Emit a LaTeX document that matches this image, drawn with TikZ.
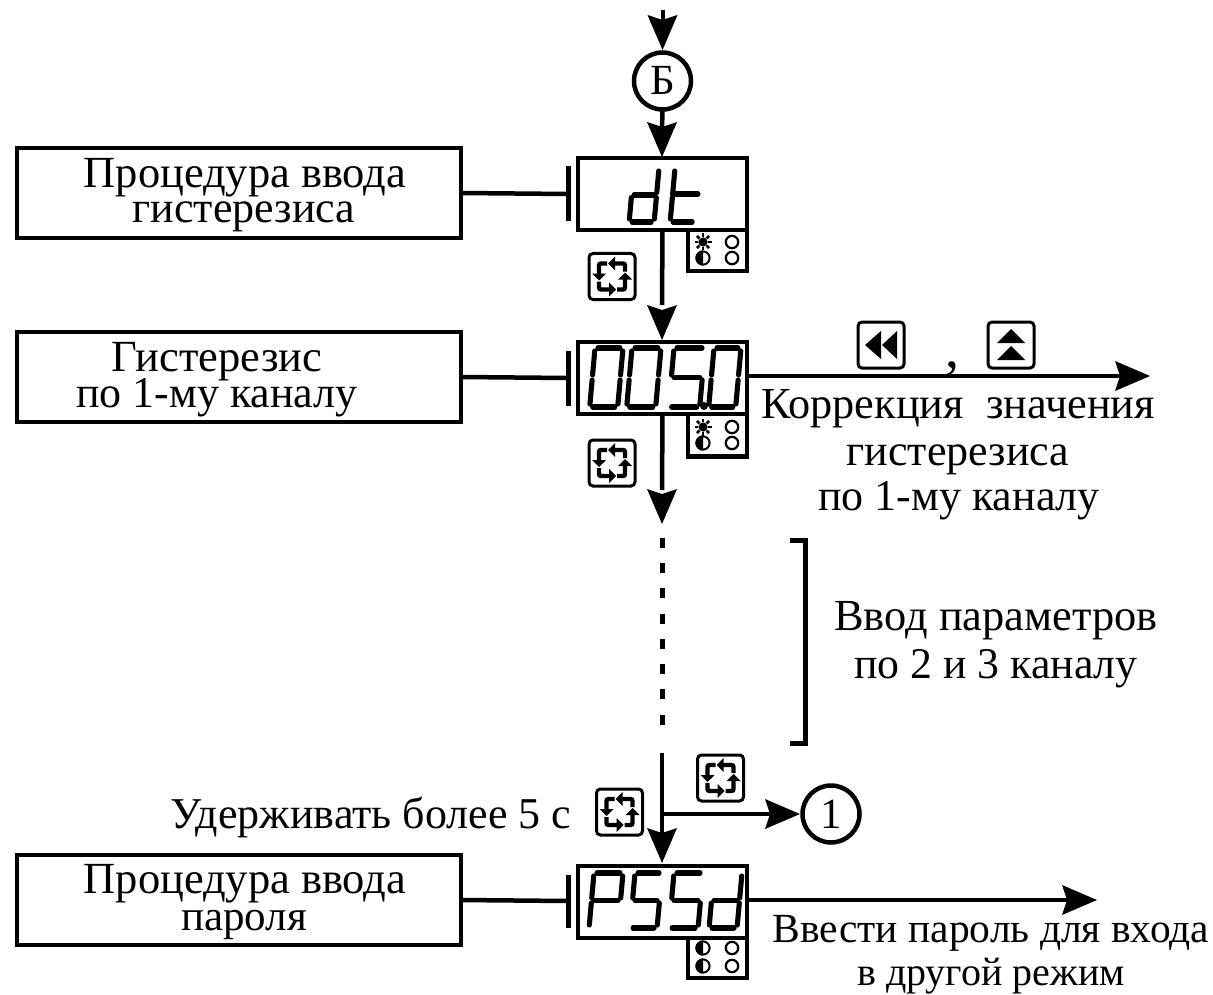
\documentclass[tikz,border=0pt]{standalone}
\usepackage{fontspec}
\setmainfont{Liberation Serif}
\newcommand{\segw}{30}
\newcommand{\segh}{56}
\newcommand{\segA}{\draw[segline] (3,0)--(\segw-3,0);}
\newcommand{\segB}{\draw[segline] (\segw,3)--(\segw,\segh/2-2.5);}
\newcommand{\segC}{\draw[segline] (\segw,\segh/2+2.5)--(\segw,\segh-3);}
\newcommand{\segD}{\draw[segline] (3,\segh)--(\segw-3,\segh);}
\newcommand{\segE}{\draw[segline] (0,\segh/2+2.5)--(0,\segh-3);}
\newcommand{\segF}{\draw[segline] (0,3)--(0,\segh/2-2.5);}
\newcommand{\segG}{\draw[segline] (2.5,\segh/2)--(\segw-2.5,\segh/2);}
\newcommand{\ssd}[4]{\renewcommand{\segw}{#3}\begin{scope}[shift={(#1,#2)},xslant=0.09]\foreach \s in {#4}{\csname seg\s\endcsname}\end{scope}}
\newcommand{\ahead}[3]{\fill[black,shift={(#1,#2)},rotate=#3] (0,0)--(-15,-35)--(0,-30)--(15,-35)--cycle;}
\tikzset{
 every node/.style={inner sep=0pt,outer sep=0pt},
 segline/.style={line width=5.1pt,line cap=round,black},
 lab/.style={font=\fontsize{#1}{#1}\selectfont,anchor=base,text=black},
 lab/.default=43,
 procbox/.style={draw=black,line width=4.5pt,minimum width=444pt,minimum height=90pt,fill=white},
 disp/.style={draw=black,line width=4.5pt,minimum width=169pt,minimum height=72pt,fill=white},
 ledbox/.style={draw=black,line width=4.5pt,minimum width=59pt,fill=white},
 btn/.style={draw=black,line width=3pt,rounded corners=4pt,minimum size=46pt,fill=white},
 cnode/.style={draw=black,line width=4.5pt,circle,minimum size=57pt,fill=white},
 wire/.style={line width=4.5pt,black},
 bar/.style={line width=5pt,black},
 recycle/.pic={\foreach \r in {0,90,180,270}{\begin{scope}[rotate=\r]
   \draw[line width=4.4pt,rounded corners=2pt] (2,-13)--(13,-13)--(13,-5);
   \fill (-4,-13)--(3,-20)--(3,-6)--cycle;\end{scope}}},
 sun/.pic={\fill circle (4.6pt);\foreach \r in {0,45,...,315}{\draw[line width=2.6pt,rotate=\r] (5,0)--(8.5,0);}},
 halfled/.pic={\draw[line width=2pt,fill=white] circle (6.6pt);\fill (0,-7.6) arc[start angle=90,end angle=270,radius=7.6pt]--cycle;},
 offled/.pic={\draw[line width=2.2pt] circle (6.2pt);},
}
\begin{document}
\begin{tikzpicture}[x=1pt,y=-1pt]
\useasboundingbox (0,0) rectangle (1213,995);
% process boxes
\node[procbox] (p1) at (239,193) {};
\node[procbox] (p2) at (239,377) {};
\node[procbox] (p3) at (239,900) {};
\node[lab=44.5] (t1) at (245,188) {Процедура ввода};
\node[lab=44] (t2) at (244,223) {гистерезиса};
\node[lab=44.5] (t3) at (217,371) {Гистерезис};
\node[lab=44] (t4) at (217,407) {по 1-му каналу};
\node[lab=44.5] (t5) at (245,893) {Процедура ввода};
\node[lab] (t6) at (244,930) {пароля};
% bars
\coordinate (b1) at (568,194);
\coordinate (b2) at (568,378);
\coordinate (b3) at (568,901);
\draw[bar] ([yshift=-27.5pt]b1)--([yshift=27.5pt]b1);
\draw[bar] ([yshift=-27.5pt]b2)--([yshift=27.5pt]b2);
\draw[bar] ([yshift=-26.5pt]b3)--([yshift=26.5pt]b3);
\draw[wire] (p1.east)--(b1);
\draw[wire] (p2.east)--(b2);
\draw[wire] (p3.east)--(b3);
% displays
\node[ledbox,minimum height=42pt] (l1) at (717.5,250) {};
\node[ledbox,minimum height=43pt] (l2) at (717.5,435) {};
\node[ledbox,minimum height=41pt] (l3) at (717.5,957.5) {};
\node[disp] (d1) at (662.5,194) {};
\node[disp] (d2) at (662.5,378) {};
\node[disp] (d3) at (662.5,902) {};
% LEDs
\pic at (703,242) {sun}; \pic at (703,258) {halfled}; \pic at (732,242) {offled}; \pic at (732,258) {offled};
\pic at (703,427) {sun}; \pic at (703,443) {halfled}; \pic at (732,427) {offled}; \pic at (732,443) {offled};
\pic at (703,948) {halfled}; \pic at (703,966) {halfled}; \pic at (732,948) {offled}; \pic at (732,966) {offled};
% digits
\renewcommand{\segh}{54}
\ssd{634}{168}{25}{B,C,D,E,G}
\ssd{675}{168}{25}{F,E,D}
\draw[segline] (672.5,194)--(698,194);
\renewcommand{\segh}{59}
\ssd{595}{348}{28}{A,B,C,D,E,F}
\ssd{632}{348}{29}{A,B,C,D,E,F}
\ssd{674}{348}{31}{A,F,G,C,D}
\ssd{714}{348}{27}{A,B,C,D,E,F}
\fill (704,406) circle (4pt);
\renewcommand{\segh}{55}
\ssd{594}{873}{29}{A,B,F,E,G}
\ssd{635}{873}{27}{A,F,G,C,D}
\ssd{674}{873}{29}{A,F,G,C,D}
\ssd{714}{873}{28}{B,C,D,E,G}
% main flow
\coordinate (top) at (663,10);
\node[cnode] (cb) at (662.5,81) {};
\node[lab] (cbt) at (662.5,95) {Б};
\draw[wire] (top)--(663,25);
\ahead{662.5}{50}{0}
\draw[wire] (cb.south)--(662,130);
\ahead{662}{157}{0}
\draw[wire] (d1.south)--(662,305);
\ahead{662}{340}{0}
\draw[wire] (d2.south)--(662,490);
\ahead{662}{524}{0}
\foreach \y in {538,563,588,614,639,664,689,715}{\draw[line width=5pt,black] (662,\y)--(662,\y+10);}
\coordinate (split) at (662,814);
\draw[wire] (662,753)--(662,835);
\ahead{662}{863}{0}
\node[cnode] (c1) at (831,814) {};
\node[lab] (c1t) at (831,828.5) {1};
\draw[wire] (split)--(775,814);
\ahead{800}{814}{90}
% output arrows
\coordinate (e2) at (1150,376);
\coordinate (e3) at (1097,900);
\draw[wire] (d2.east|-e2)--(1120,376);
\ahead{1150}{376}{90}
\draw[wire] (d3.east|-e3)--(1067,900);
\ahead{1097}{900}{90}
% buttons
\node[btn] (i1) at (612,276.5) {}; \pic at (i1) {recycle};
\node[btn] (i2) at (612,463) {}; \pic at (i2) {recycle};
\node[btn] (i3) at (720.5,778) {}; \pic at (i3) {recycle};
\node[btn] (i4) at (619.5,812) {}; \pic at (i4) {recycle};
\node[btn] (i5) at (881,345) {};
\fill ([shift={(-16,0)}]i5.center)--++(16,-14)--++(0,28)--cycle;
\fill ([shift={(1,0)}]i5.center)--++(15,-14)--++(0,28)--cycle;
\node[btn] (i6) at (1011,345) {};
\fill ([shift={(0,-16)}]i6.center)--++(14,14)--++(-28,0)--cycle;
\fill ([shift={(0,1)}]i6.center)--++(14,14)--++(-28,0)--cycle;
\node[lab=56] (comma) at (952,367) {,};
% bracket
\draw[line width=5pt,black] (790,540)--(805,540)--(805,743)--(790,743);
% labels
\node[lab=44.3] (t7) at (958,418) {Коррекция\ \ значения};
\node[lab=44] (t8) at (958,465) {гистерезиса};
\node[lab=44] (t9) at (959,510) {по 1-му каналу};
\node[lab=44.4] (t10) at (996,630) {Ввод параметров};
\node[lab=43.8] (t11) at (996,678) {по 2 и 3 каналу};
\node[lab=44] (t12) at (371,828) {Удерживать более 5 с};
\node[lab=41.5] (t13) at (991,942) {Ввести пароль для входа};
\node[lab=40] (t14) at (991,985) {в другой режим};
\end{tikzpicture}
\end{document}
